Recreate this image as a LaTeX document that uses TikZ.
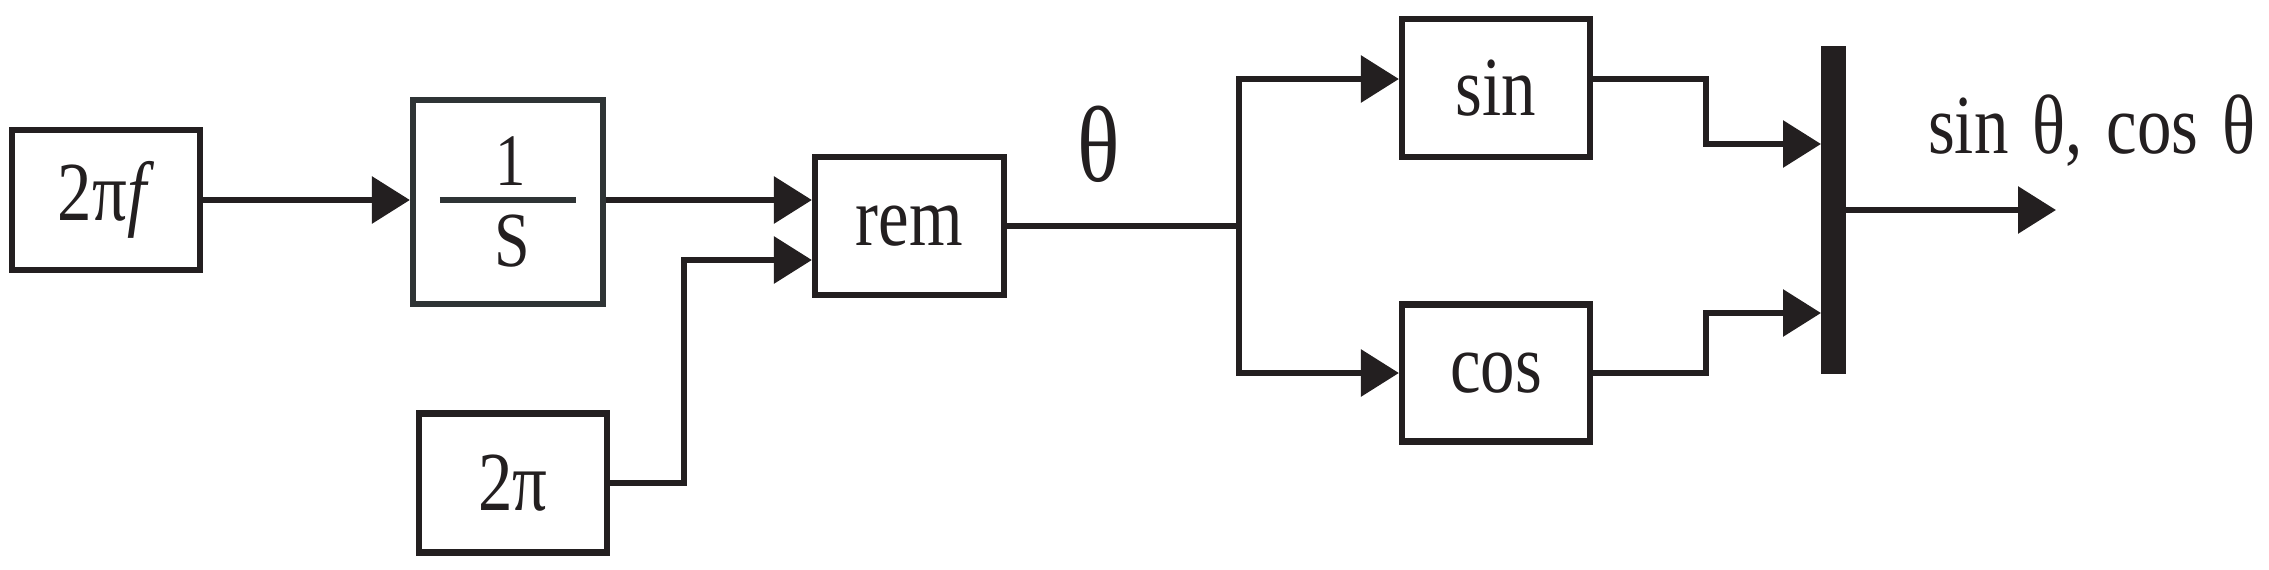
\documentclass[tikz,border=0pt]{standalone}
\usepackage{fontspec}
\setmainfont{Liberation Serif}[FakeStretch=0.82]
\usetikzlibrary{arrows.meta}
\definecolor{ink}{HTML}{231F20}
\definecolor{inkg}{HTML}{2F3435}
\begin{document}
\begin{tikzpicture}[x=0.25pt,y=-0.25pt,line width=1.55pt,draw=ink,text=ink,
  font=\fontsize{21}{25}\selectfont,
  blk/.style={draw=ink,line width=1.55pt,inner sep=0pt,minimum width=47pt,minimum height=34.5pt},
  arr/.style={draw=ink,-{Triangle[length=9.5pt,width=11.5pt]}},
  lbl/.style={inner sep=0pt}]
\useasboundingbox (0,0) rectangle (2269,569);
% blocks
\node[blk,minimum width=47pt,minimum height=35pt] (f) at (106,200) {2π\textit{f}};
\node[blk,draw=inkg,minimum width=47.5pt,minimum height=51pt] (int) at (508,202) {};
\node[lbl,font=\fontsize{18.5}{20}\selectfont] (one) at (511,161) {1};
\node[lbl,font=\fontsize{19.5}{22}\selectfont] (ess) at (512,241) {S};
\draw[draw=inkg] ([xshift=7.5pt]int.west |- f) -- ([xshift=-7.5pt]int.east |- f);
\node[blk,minimum height=34.75pt] (tp) at (513,483) {2π};
\node[blk,minimum width=47.25pt] (rem) at (909.5,226) {rem};
\node[blk] (sin) at (1496,88) {sin};
\node[blk,minimum height=34.25pt] (cos) at (1496,373) {cos};
\node[fill=ink,draw=none,inner sep=0pt,outer sep=0pt,minimum width=6.25pt,minimum height=82pt] (bar) at (1833.5,210) {};
% labels
\node[lbl,font=\fontsize{27}{30}\selectfont] (th) at (1099,144) {θ};
\node[lbl,anchor=base west] (ol) at (1925,153) {sin\hspace{0.08em} θ,\hspace{0.08em} cos\hspace{0.08em} θ};
% coordinates
\coordinate (k1) at (684,260);
\coordinate (jn) at (1239,226);
\coordinate (so) at (1706,144);
\coordinate (co) at (1706,313);
\coordinate (out) at (2056,210);
% connectors
\draw[arr] (f) -- (f -| int.west);
\draw[arr] (int.east |- f) -- (rem.west |- f);
\draw[arr] (tp.east) -| (k1) -- (rem.west |- k1);
\draw (rem.east) -- (jn);
\draw[arr] (jn) |- ([yshift=2.25pt]sin.west);
\draw[arr] (jn) |- (cos.west);
\draw[arr] ([yshift=2.25pt]sin.east) -| (so) -- (bar.west |- so);
\draw[arr] (cos.east) -| (co) -- (bar.west |- co);
\draw[arr] (bar.east |- out) -- (out);
\end{tikzpicture}
\end{document}
